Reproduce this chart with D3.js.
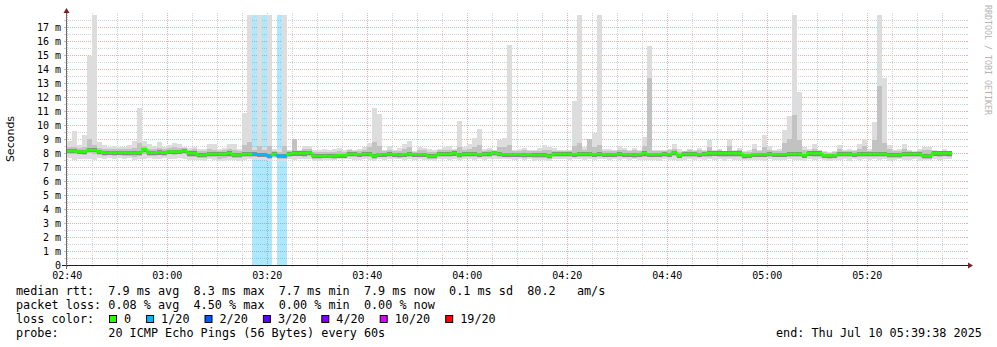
<!DOCTYPE html>
<html>
<head>
<meta charset="utf-8">
<script src="https://cdn.jsdelivr.net/npm/d3@7/dist/d3.min.js"></script>
<style>
  html, body { margin: 0; padding: 0; background: #fff; }
  svg { display: block; }
  text { white-space: pre; }
</style>
</head>
<body>
<svg id="chart" width="997" height="347"></svg>
<script>
// graph window and sampling
const graphStart = new Date(2025, 6, 10, 2, 39, 38);
const graphEnd = new Date(2025, 6, 10, 5, 39, 38);
const firstSample = new Date(2025, 6, 10, 2, 40, 0);
const yMax = 17.86; // ms, top of the canvas

// median rtt per minute (ms)
const medianMs = [
  8.14,8.14,8.10,8.10,8.21,8.21,8.10,8.02,8.02,8.02,8.02,8.02,8.02,8.00,8.02,8.26,8.02,8.02,8.05,8.02,8.10,8.10,8.10,8.14,7.98,7.98,7.86,7.86,7.93,7.93,7.93,7.93,7.98,7.86,7.86,7.93,
  7.93,7.93,7.90,7.90,7.79,7.93,7.79,7.80,7.93,7.98,7.98,7.98,8.02,7.79,7.79,7.79,7.79,7.79,7.83,7.83,7.93,7.93,7.90,7.93,7.93,7.79,7.90,7.90,7.93,7.90,7.88,7.90,7.93,7.90,7.90,7.90,
  7.79,7.79,7.93,7.93,7.93,7.98,7.86,7.93,7.93,7.93,7.90,7.93,7.93,8.02,7.93,7.90,7.90,7.90,7.90,7.88,7.90,7.86,7.86,7.86,7.79,7.93,7.93,7.93,7.93,7.90,7.93,7.93,7.93,7.90,7.93,
  7.90,7.90,7.90,7.93,7.90,7.90,7.88,7.90,7.98,7.90,7.90,7.90,7.93,7.90,8.02,7.83,7.93,7.93,7.93,7.90,7.93,7.98,7.98,7.98,7.98,7.98,7.98,7.98,7.83,7.83,7.90,7.90,7.90,7.93,7.90,7.90,7.90,
  7.93,7.93,7.93,7.83,7.98,7.98,7.98,7.83,7.83,7.83,7.93,7.93,7.93,7.90,7.93,7.93,7.93,7.93,7.93,7.93,7.86,7.86,7.86,7.93,7.93,7.93,7.93,7.79,7.79,7.98,7.98,7.98,7.98
];

// fastest ping per minute (ms)
const minMs = [
  7.62,7.48,7.60,7.55,7.60,7.52,7.62,7.58,7.62,7.60,7.62,7.55,7.62,7.48,7.55,7.60,7.62,7.58,7.55,7.62,7.60,7.58,7.62,7.55,7.52,7.50,7.48,7.45,7.55,7.50,7.40,7.45,7.50,7.52,7.45,7.52,
  7.55,7.50,7.52,7.50,7.45,7.62,7.45,7.40,7.55,7.52,7.58,7.55,7.55,7.45,7.40,7.50,7.52,7.50,7.55,7.60,7.55,7.50,7.52,7.55,7.50,7.45,7.55,7.52,7.58,7.55,7.55,7.50,7.55,7.48,7.55,7.50,
  7.50,7.45,7.55,7.55,7.52,7.58,7.48,7.55,7.55,7.50,7.58,7.52,7.55,7.60,7.55,7.55,7.55,7.52,7.55,7.50,7.55,7.45,7.52,7.50,7.40,7.55,7.55,7.58,7.50,7.55,7.55,7.52,7.55,7.52,7.58,
  7.55,7.50,7.55,7.50,7.55,7.52,7.55,7.50,7.52,7.48,7.50,7.45,7.55,7.52,7.50,7.45,7.52,7.55,7.50,7.55,7.52,7.55,7.50,7.55,7.45,7.55,7.50,7.52,7.48,7.50,7.52,7.50,7.45,7.55,7.52,7.50,7.52,
  7.55,7.52,7.50,7.45,7.55,7.50,7.55,7.52,7.45,7.48,7.50,7.55,7.45,7.55,7.52,7.55,7.50,7.55,7.52,7.55,7.45,7.52,7.55,7.48,7.52,7.55,7.45,7.50,7.50,7.55,7.50,7.55,7.55
];

// slowest ping per minute (ms), values above the top are clipped
const maxMs = [
  8.86,9.57,8.57,9.29,14.95,18.5,8.81,8.57,8.45,8.50,8.45,8.45,8.57,8.86,11.24,8.86,8.62,8.50,8.81,8.45,8.57,8.74,8.62,8.45,8.38,8.45,8.26,8.26,8.62,8.62,8.26,8.38,8.62,8.62,8.26,10.88,
  18.5,8.40,18.5,8.40,18.5,8.26,8.30,18.5,8.21,8.98,8.21,8.50,8.50,8.21,8.21,8.30,8.21,8.30,8.38,8.21,8.30,8.21,8.30,8.45,8.74,11.20,10.79,8.21,8.50,8.21,8.33,8.62,8.86,8.12,8.45,8.38,
  8.26,8.21,8.30,8.40,8.50,8.30,10.29,8.40,8.67,9.05,9.71,8.26,8.33,8.21,8.93,9.05,15.71,8.21,8.26,8.38,8.21,8.21,8.38,8.57,8.45,8.33,8.21,8.21,8.21,11.71,18.5,8.45,8.98,9.45,18.5,
  8.26,8.26,8.21,8.50,8.38,8.21,8.38,8.21,9.17,15.64,8.21,8.21,8.21,8.26,8.62,8.26,8.12,8.26,8.21,8.38,8.21,8.93,8.21,8.26,8.12,9.00,8.21,8.38,8.12,8.21,8.62,8.21,9.29,8.50,8.21,8.26,9.64,
  10.64,18.5,12.38,8.45,8.26,8.67,8.21,8.14,8.05,8.12,8.57,8.21,8.26,8.21,8.62,8.98,8.26,10.19,18.5,13.33,8.57,8.21,8.26,8.62,8.21,8.14,8.26,8.45,8.45,8.21,8.12,8.26,8.12
];

// inner smoke band (ms)
const upperMs = [
  8.40,8.45,8.38,8.40,9.00,8.60,8.38,8.30,8.28,8.30,8.28,8.30,8.30,8.35,8.70,8.50,8.30,8.28,8.35,8.28,8.38,8.40,8.35,8.38,8.25,8.28,8.12,8.15,8.30,8.22,8.12,8.20,8.28,8.20,8.12,8.60,
  8.80,8.20,8.50,8.20,8.50,8.15,8.10,8.50,8.12,8.98,8.15,8.30,8.32,8.05,8.05,8.10,8.05,8.10,8.15,8.08,8.18,8.12,8.15,8.25,8.40,8.80,8.50,8.12,8.25,8.12,8.15,8.30,8.40,8.05,8.22,8.18,
  8.10,8.05,8.18,8.20,8.25,8.20,8.40,8.20,8.30,8.40,8.60,8.15,8.18,8.12,8.40,8.40,8.60,8.12,8.15,8.18,8.12,8.12,8.15,8.25,8.20,8.15,8.12,8.12,8.15,8.50,8.74,8.20,8.98,8.40,8.60,
  8.15,8.15,8.12,8.25,8.20,8.12,8.18,8.12,8.50,13.38,8.12,8.12,8.15,8.18,8.30,8.10,8.15,8.18,8.12,8.20,8.15,8.40,8.15,8.18,8.12,8.50,8.15,8.20,8.05,8.10,8.30,8.12,8.40,8.25,8.12,8.15,8.70,
  8.98,10.71,8.90,8.20,8.15,8.30,8.15,8.05,8.00,8.05,8.30,8.12,8.15,8.12,8.30,8.50,8.15,8.90,12.79,8.70,8.30,8.12,8.15,8.30,8.15,8.10,8.15,8.25,8.20,8.12,8.10,8.15,8.10
];
const lowerMs = [
  7.95,7.90,7.92,7.88,7.98,7.95,7.88,7.82,7.85,7.80,7.85,7.80,7.82,7.75,7.82,7.95,7.82,7.80,7.85,7.80,7.90,7.88,7.90,7.92,7.75,7.70,7.65,7.62,7.72,7.70,7.60,7.65,7.75,7.65,7.62,7.72,
  7.72,7.70,7.70,7.68,7.60,7.75,7.60,7.58,7.72,7.78,7.78,7.75,7.80,7.60,7.55,7.62,7.62,7.60,7.65,7.68,7.72,7.72,7.70,7.72,7.72,7.58,7.70,7.70,7.75,7.70,7.65,7.70,7.72,7.70,7.68,7.70,
  7.60,7.58,7.72,7.75,7.72,7.78,7.65,7.72,7.75,7.72,7.70,7.75,7.72,7.82,7.72,7.70,7.70,7.72,7.70,7.65,7.70,7.62,7.65,7.65,7.55,7.72,7.75,7.75,7.70,7.72,7.70,7.72,7.70,7.68,7.72,
  7.70,7.68,7.72,7.70,7.72,7.68,7.65,7.70,7.75,7.70,7.68,7.70,7.72,7.68,7.80,7.62,7.72,7.75,7.70,7.68,7.72,7.75,7.78,7.75,7.72,7.75,7.75,7.75,7.60,7.62,7.68,7.70,7.68,7.72,7.68,7.70,7.68,
  7.72,7.70,7.72,7.62,7.78,7.75,7.75,7.62,7.60,7.62,7.72,7.70,7.72,7.68,7.72,7.70,7.72,7.72,7.70,7.72,7.65,7.62,7.65,7.72,7.70,7.72,7.70,7.58,7.60,7.78,7.75,7.78,7.75
];

// minutes with lost pings (index into the arrays above) and how many of 20 were lost
const lossIdx = [37, 38, 39, 40, 42, 43];
const lossPings = [1, 1, 1, 1, 1, 1];

// legend
const lossLevels = [0, 1, 2, 3, 4, 10, 19];
const lossLabels = ['0', '1/20', '2/20', '3/20', '4/20', '10/20', '19/20'];
const lossColors = ['#26ff00', '#00b8ff', '#0059ff', '#5e00ff', '#7e00ff', '#dd00ff', '#ff0000'];
const legendRows = [
  'median rtt:  7.9 ms avg  8.3 ms max  7.7 ms min  7.9 ms now  0.1 ms sd  80.2   am/s',
  'packet loss: 0.08 % avg  4.50 % max  0.00 % min  0.00 % now',
  'loss color:',
  'probe:       20 ICMP Echo Pings (56 Bytes) every 60s'
];
const endLabel = 'end: Thu Jul 10 05:39:38 2025';

const mono = '"DejaVu Sans Mono", monospace';
const charW = 7.1; // legend cell width
const X0 = 66, X1 = 966, Y0 = 265, Y1 = 15;

const svg = d3.select('#chart');
svg.append('rect').attr('width', 997).attr('height', 347).attr('fill', '#ffffff');

const x = d3.scaleTime().domain([graphStart, graphEnd]).range([X0 - 0.5, X1 - 0.5]);
const y = d3.scaleLinear().domain([0, yMax]).range([Y0, Y1]);

const sampleTimes = medianMs.map((d, i) => d3.timeMinute.offset(firstSample, i));
const xl = i => x(sampleTimes[i]);
const xr = i => x(d3.timeMinute.offset(sampleTimes[i], 1));

const lossOf = new Map(lossIdx.map((k, i) => [k, lossPings[i]]));
const colorFor = n => lossColors[d3.bisectRight(lossLevels, n) - 1];

svg.append('clipPath').attr('id', 'canvas')
  .append('rect').attr('x', X0).attr('y', Y1).attr('width', X1 - X0).attr('height', Y0 - Y1);

// ---- grid
const grid = svg.append('g').attr('shape-rendering', 'crispEdges');
const minorGrid = '#d2d2d2', majorGrid = '#e4b0b0';

const yMinor = d3.range(0.5, yMax, 0.5).filter(v => v % 1 !== 0);
const yMajor = d3.range(1, yMax, 1);
const py = v => Math.round(y(v)) + 0.5;

[[yMinor, minorGrid], [yMajor, majorGrid]].forEach(([vals, col]) => {
  grid.selectAll(null).data(vals).enter().append('line')
    .attr('x1', X0).attr('x2', X1).attr('y1', py).attr('y2', py)
    .attr('stroke', col).attr('stroke-dasharray', '1,1');
  grid.selectAll(null).data(vals).enter().append('line')
    .attr('x1', X0 - 2).attr('x2', X0).attr('y1', py).attr('y2', py).attr('stroke', col);
  grid.selectAll(null).data(vals).enter().append('line')
    .attr('x1', X1).attr('x2', X1 + 2).attr('y1', py).attr('y2', py).attr('stroke', col);
});

const xMinor = x.ticks(d3.timeMinute.every(5)).filter(t => t.getMinutes() % 20 !== 0);
const xMajor = x.ticks(d3.timeMinute.every(20));
const px = t => Math.round(x(t)) + 0.5;

[[xMinor, minorGrid], [xMajor, majorGrid]].forEach(([vals, col]) => {
  grid.selectAll(null).data(vals).enter().append('line')
    .attr('x1', px).attr('x2', px).attr('y1', Y1 - 2).attr('y2', Y0)
    .attr('stroke', col).attr('stroke-dasharray', '1,1');
  grid.selectAll(null).data(vals).enter().append('line')
    .attr('x1', px).attr('x2', px).attr('y1', Y0).attr('y2', Y0 + 2).attr('stroke', col);
});

// ---- data
const plot = svg.append('g').attr('clip-path', 'url(#canvas)').attr('shape-rendering', 'crispEdges');

// loss background
plot.selectAll('rect.loss').data(lossIdx).enter().append('rect')
  .attr('class', 'loss')
  .attr('x', k => xl(k)).attr('width', k => xr(k) - xl(k))
  .attr('y', Y1).attr('height', Y0 - Y1)
  .attr('fill', k => colorFor(lossOf.get(k)))
  .attr('fill-opacity', 0.32);

// smoke
const idx = d3.range(medianMs.length);
const band = (cls, lo, hi, col) => plot.selectAll('rect.' + cls).data(idx).enter().append('rect')
  .attr('class', cls)
  .attr('x', k => xl(k)).attr('width', k => xr(k) - xl(k))
  .attr('y', k => y(hi(k))).attr('height', k => y(lo(k)) - y(hi(k)))
  .attr('fill', col);

band('outer', k => minMs[k], k => maxMs[k], '#dddddd');
band('inner', k => lowerMs[k], k => upperMs[k], '#c2c2c2');
band('core', k => medianMs[k] - 0.16, k => medianMs[k] + 0.13, '#8a8a8a');

// median line coloured by loss
plot.append('g').attr('shape-rendering', 'auto')
  .selectAll('path').data(idx).enter().append('path')
  .attr('d', k => {
    const ym = y(medianMs[k]);
    const start = k > 0 ? `M${xl(k)},${y(medianMs[k - 1])}V${ym}` : `M${xl(k)},${ym}`;
    return start + `H${xr(k)}`;
  })
  .attr('fill', 'none')
  .attr('stroke', k => colorFor(lossOf.get(k) || 0))
  .attr('stroke-width', 2.6);

// ---- axes
const axisCol = '#1f1f1f', arrowCol = '#7f1f1f';
svg.append('line').attr('x1', X0 - 4).attr('x2', X1 + 4).attr('y1', Y0 + 0.5).attr('y2', Y0 + 0.5)
  .attr('stroke', axisCol).attr('shape-rendering', 'crispEdges');
svg.append('line').attr('x1', X0 + 0.5).attr('x2', X0 + 0.5).attr('y1', Y0 + 4).attr('y2', Y1 - 4)
  .attr('stroke', '#6a6a6a').attr('shape-rendering', 'crispEdges');
svg.append('path').attr('d', `M${X1 + 2},${Y0 - 2.5}L${X1 + 2},${Y0 + 3.5}L${X1 + 7},${Y0 + 0.5}Z`).attr('fill', arrowCol);
svg.append('path').attr('d', `M${X0 - 2.5},${Y1 - 2}L${X0 + 3.5},${Y1 - 2}L${X0 + 0.5},${Y1 - 7}Z`).attr('fill', arrowCol);

// tick labels
svg.selectAll('text.ylab').data(d3.range(0, 18)).enter().append('text')
  .attr('class', 'ylab')
  .attr('x', 61).attr('y', v => y(v) + 3.5)
  .attr('text-anchor', 'end')
  .style('font', `10px ${mono}`).attr('fill', '#000')
  .text(v => v === 0 ? '0' : v + ' m');

svg.selectAll('text.xlab').data(xMajor).enter().append('text')
  .attr('class', 'xlab')
  .attr('x', t => x(t)).attr('y', 278.5)
  .attr('text-anchor', 'middle')
  .style('font', `10px ${mono}`).attr('fill', '#000')
  .text(d3.timeFormat('%H:%M'));

svg.append('text')
  .attr('transform', 'translate(14,139) rotate(-90)')
  .attr('text-anchor', 'middle')
  .style('font', '11px "DejaVu Sans", sans-serif').attr('fill', '#000')
  .text('Seconds');

svg.append('text')
  .attr('transform', 'translate(984.5,5) rotate(90)')
  .style('font', `8.3px ${mono}`).attr('fill', '#b4b4b4')
  .text('RRDTOOL / TOBI OETIKER');

// ---- legend
const legend = svg.append('g')
  .style('font', `11.8px ${mono}`)
  .attr('fill', '#000');
const cellText = (sel, s) => sel.text(s)
  .attr('textLength', s.length * charW).attr('lengthAdjust', 'spacing');

legendRows.forEach((row, i) => {
  legend.append('text').attr('x', 16).attr('y', 295 + i * 14).call(cellText, row);
});
legend.append('text').attr('x', 776).attr('y', 337).call(cellText, endLabel);

let bx = 109;
lossLabels.forEach((lab, i) => {
  legend.append('rect')
    .attr('x', bx + 0.5).attr('y', 315.5).attr('width', 7).attr('height', 7)
    .attr('fill', lossColors[i]).attr('stroke', '#000').attr('stroke-width', 1);
  legend.append('text').attr('x', bx + 15).attr('y', 323).call(cellText, lab);
  bx = bx + 15 + lab.length * charW + 15;
});
</script>
</body>
</html>
